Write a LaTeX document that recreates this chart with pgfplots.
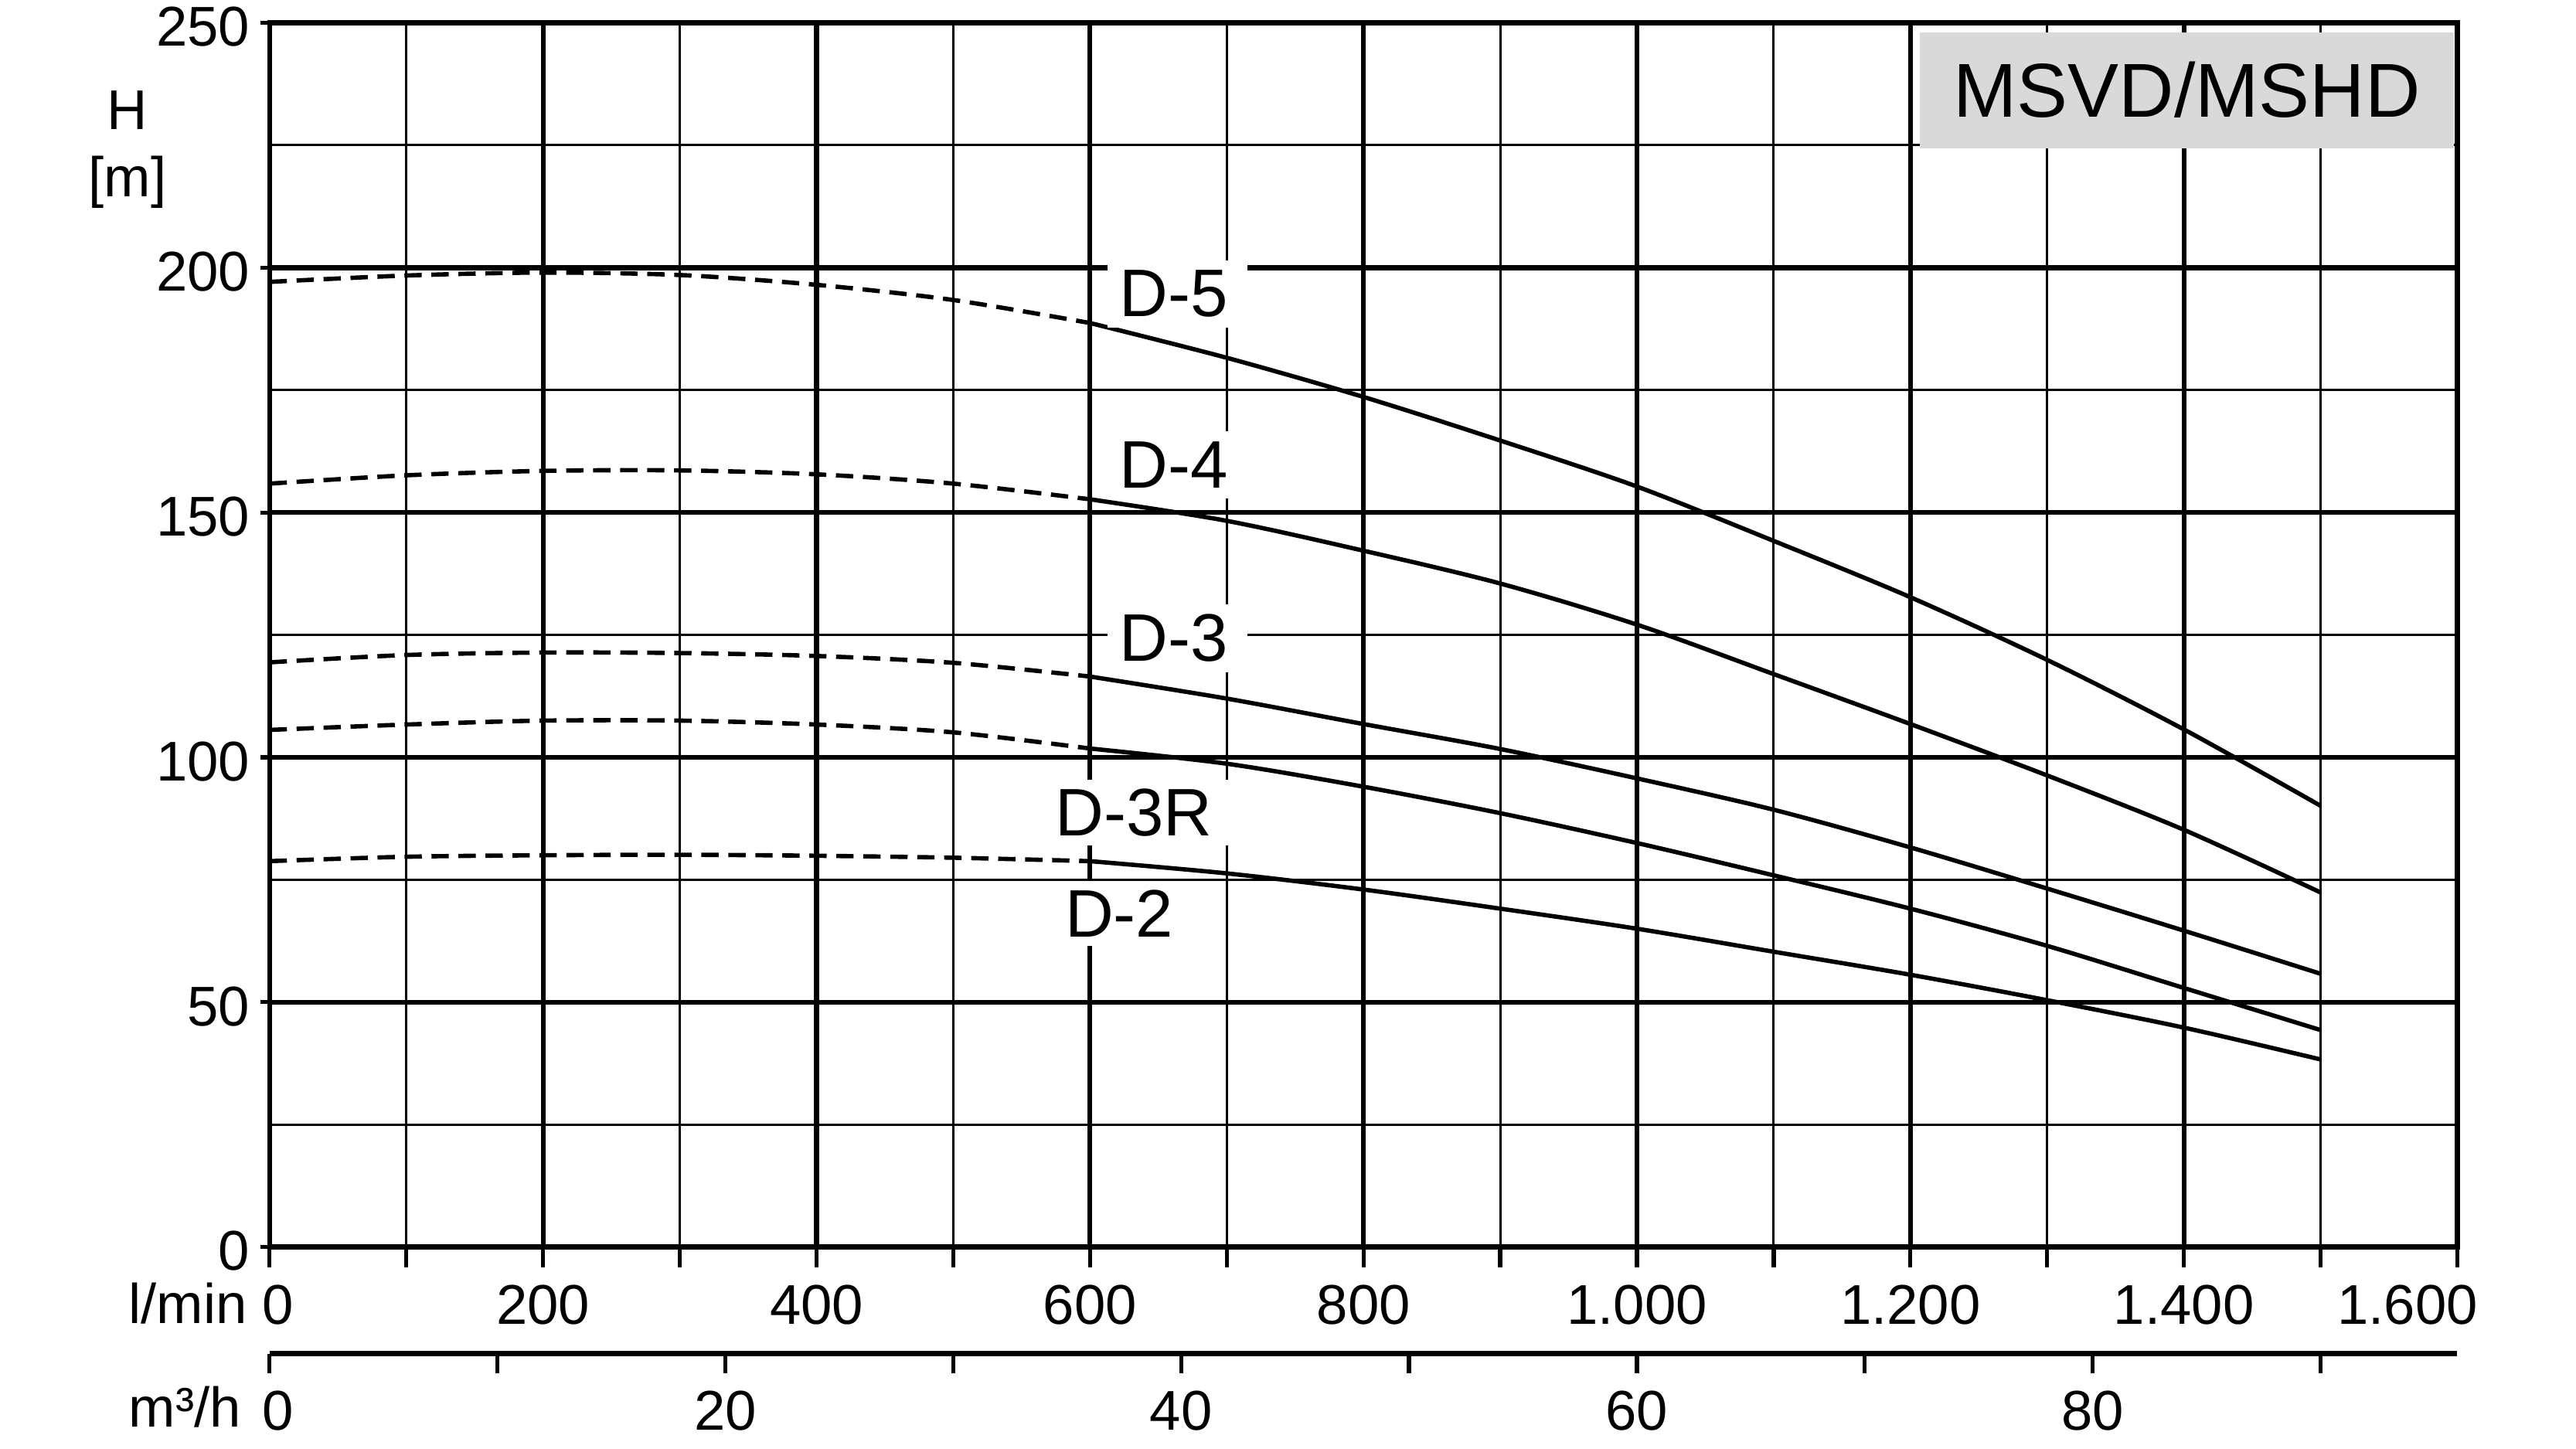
\documentclass[border=0pt]{standalone}
\usepackage{fontspec}
\setmainfont{Liberation Sans}
\usepackage{pgfplots}
\pgfplotsset{compat=1.18}
\definecolor{boxgray}{HTML}{D9D9D9}
\newcommand{\tickfont}{\fontsize{11}{13}\selectfont}
\newcommand{\lblfont}{\fontsize{13.2}{15}\selectfont}

\pgfplotstableread{
x y
0 197.1
100 198.4
200 199.0
300 198.5
400 196.5
500 193.4
600 188.7
}\DfiveA
\pgfplotstableread{
x y
600 188.7
700 181.6
800 173.6
900 164.7
1000 155.3
1100 144.2
1200 132.7
1300 119.9
1400 105.7
1500 90.1
}\DfiveB
\pgfplotstableread{
x y
0 155.9
100 157.6
200 158.5
300 158.6
400 157.8
500 155.9
600 152.7
}\DfourA
\pgfplotstableread{
x y
600 152.7
700 148.3
800 142.2
900 135.5
1000 127.1
1100 117.0
1200 106.8
1300 96.3
1400 85.2
1500 72.4
}\DfourB
\pgfplotstableread{
x y
0 119.4
100 120.9
200 121.4
300 121.3
400 120.7
500 119.3
600 116.5
}\DthreeA
\pgfplotstableread{
x y
600 116.5
700 112.0
800 106.8
900 101.7
1000 95.7
1100 89.3
1200 81.6
1300 73.2
1400 64.6
1500 55.8
}\DthreeB
\pgfplotstableread{
x y
0 105.6
100 106.7
200 107.5
300 107.5
400 106.7
500 105.1
600 101.8
}\DthreeRA
\pgfplotstableread{
x y
600 101.8
700 98.7
800 94.0
900 88.6
1000 82.5
1100 75.9
1200 69.1
1300 61.5
1400 52.9
1500 44.3
}\DthreeRB
\pgfplotstableread{
x y
0 78.8
100 79.7
200 80.0
300 80.1
400 79.9
500 79.5
600 78.8
}\DtwoA
\pgfplotstableread{
x y
600 78.8
700 76.3
800 73.0
900 69.1
1000 65.0
1100 60.3
1200 55.6
1300 50.4
1400 44.8
1500 38.3
}\DtwoB

\begin{document}
\begin{tikzpicture}
\path[use as bounding box] (-1.861cm,-1.392cm) rectangle (15.919cm,8.608cm);
\begin{axis}[
  at={(0,0)}, anchor=south west,
  scale only axis, width=15.10cm, height=8.45cm,
  xmin=0, xmax=1600, ymin=0, ymax=250,
  clip=false,
  xtick={0,200,...,1600}, minor xtick={100,300,...,1500},
  xticklabels={{\hspace{0.12cm}0},200,400,600,800,1.000,1.200,1.400,{\hspace{0.28cm}\makebox[0pt][r]{1.600}}},
  ytick={0,50,...,250}, minor ytick={25,75,...,225},
  xtick pos=bottom, ytick pos=left,
  grid=both,
  major grid style={line width=0.95pt, black},
  minor grid style={line width=0.45pt, black},
  tick align=outside,
  major tick length=4pt, minor tick length=4pt,
  tick style={line width=0.8pt, black},
  minor y tick style={draw=none},
  y tick style={/pgfplots/major tick length=1.8pt},
  yticklabel style={xshift=3.6pt, yshift=-0.8pt},
  axis line style={line width=1.0pt, black},
  /pgf/number format/assume math mode=true,
  /pgf/number format/1000 sep={.},
  tick label style={font=\tickfont},
  every axis plot/.append style={line width=0.85pt, black},
]
\addplot[smooth, dash pattern=on 3.4pt off 1.9pt] table {\DfiveA};
\addplot[smooth] table {\DfiveB};
\addplot[smooth, dash pattern=on 3.4pt off 1.9pt] table {\DfourA};
\addplot[smooth] table {\DfourB};
\addplot[smooth, dash pattern=on 3.4pt off 1.9pt] table {\DthreeA};
\addplot[smooth] table {\DthreeB};
\addplot[smooth, dash pattern=on 3.4pt off 1.9pt] table {\DthreeRA};
\addplot[smooth] table {\DthreeRB};
\addplot[smooth, dash pattern=on 3.4pt off 1.9pt] table {\DtwoA};
\addplot[smooth] table {\DtwoB};

\node[font=\lblfont, fill=white, inner xsep=2.4pt, inner ysep=2pt, text width=22.7pt, align=left, anchor=base west] at (axis cs:612,190.0) {D-5};
\node[font=\lblfont, fill=white, inner xsep=2.4pt, inner ysep=2pt, text width=22.7pt, align=left, anchor=base west] at (axis cs:612,155.0) {D-4};
\node[font=\lblfont, fill=white, inner xsep=2.4pt, inner ysep=2pt, text width=22.7pt, align=left, anchor=base west] at (axis cs:612,119.6) {D-3};
\node[font=\lblfont, fill=white, inner xsep=0.8pt, inner ysep=1.8pt, text width=34.8pt, align=left, anchor=base west] at (axis cs:571,84.0) {D-3R};
\node[font=\lblfont, fill=white, inner xsep=2.7pt, inner ysep=1.8pt, text width=28pt, align=left, anchor=base west] at (axis cs:571,63.3) {D-2};

\node[fill=boxgray, anchor=north east, minimum width=3.685cm, minimum height=0.80cm, inner sep=0pt, font=\fontsize{15}{18}\selectfont, xshift=-0.5pt] at (axis cs:1600,248.3) {MSVD/MSHD};

\node[font=\tickfont, anchor=base, xshift=-0.981cm] at (axis cs:0,228.2) {H};
\node[font=\tickfont, anchor=base, xshift=-0.981cm] at (axis cs:0,214.5) {[m]};
\node[font=\tickfont, inner sep=0pt, anchor=base east, xshift=-0.15cm, yshift=-0.528cm] at (axis cs:0,0) {l/min};
\node[font=\tickfont, inner sep=0pt, anchor=base east, xshift=-0.19cm, yshift=-1.24cm] at (axis cs:0,0) {m³/h};
\end{axis}

\begin{axis}[
  at={(0,-0.736cm)}, anchor=south west,
  scale only axis, width=15.10cm, height=0.5cm,
  xmin=0, xmax=96, ymin=0, ymax=1,
  axis x line*=bottom, hide y axis,
  xtick={0,10,...,90}, xticklabels={{\hspace{0.12cm}0},,20,,40,,60,,80,},
  tick align=outside, major tick length=3.8pt,
  tick style={line width=0.8pt, black},
  axis line style={line width=1.0pt, black},
  /pgf/number format/assume math mode=true,
  tick label style={font=\tickfont},
]
\addplot[draw=none] coordinates {(0,0) (96,1)};
\end{axis}
\end{tikzpicture}
\end{document}
